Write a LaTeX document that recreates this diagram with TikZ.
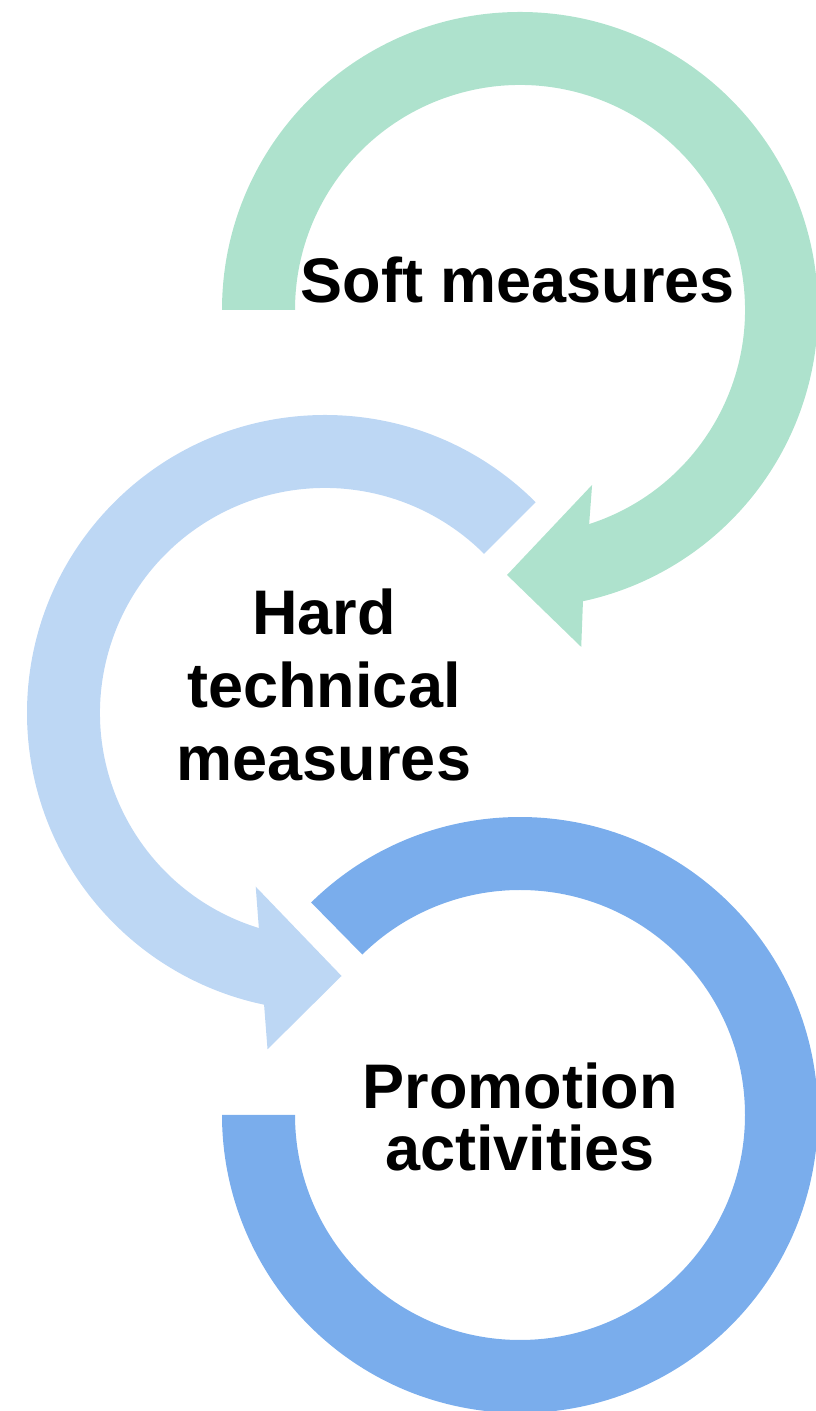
\documentclass[tikz,border=0pt]{standalone}
\usepackage{fontspec}
\setmainfont{Liberation Sans}
\definecolor{softgreen}{RGB}{174,226,205}
\definecolor{hardblue}{RGB}{189,215,244}
\definecolor{promoblue}{RGB}{122,173,236}
\begin{document}
\begin{tikzpicture}[x=1pt, y=1pt,
        lbl/.style={inner sep=0pt, align=center, font=\bfseries\fontsize{63}{73}\selectfont}]
        \useasboundingbox (0,0) rectangle (815,1411);
        \coordinate (gc) at (520,1101);
        \coordinate (bc) at (325,698);
        \coordinate (dc) at (520,296);
        % soft measures arrow
        \fill[softgreen] ([shift={(180:298)}]gc) arc[start angle=180, end angle=-77.8, radius=298]
            -- ([shift={(-79.7:342.5)}]gc) -- ([shift={(-92.8:265.3)}]gc) -- ([shift={(-67.6:189.2)}]gc)
            -- ([shift={(-72.1:225)}]gc) arc[start angle=-72.1, end angle=180, radius=225] -- cycle;
        % hard technical measures arrow
        \fill[hardblue] ([shift={(45:298)}]bc) arc[start angle=45, end angle=258.2, radius=298]
            -- ([shift={(260.3:341.2)}]bc) -- ([shift={(273.6:263.5)}]bc) -- ([shift={(248.25:187)}]bc)
            -- ([shift={(252.9:225)}]bc) arc[start angle=252.9, end angle=45, radius=225] -- cycle;
        % promotion ring
        \fill[promoblue] ([shift={(134.5:298)}]dc) arc[start angle=134.5, end angle=-180, radius=298]
            -- ([shift={(-180:225)}]dc) arc[start angle=-180, end angle=134.5, radius=225] -- cycle;
        \node[lbl, anchor=base] at (518,1108) (soft) {Soft measures};
        \node[lbl] at (324,726) (hard) {Hard\\technical\\measures};
        \node[lbl, font=\bfseries\fontsize{63}{62}\selectfont] at (520,294.5) (promo) {Promotion\\activities};
    \end{tikzpicture}
\end{document}
